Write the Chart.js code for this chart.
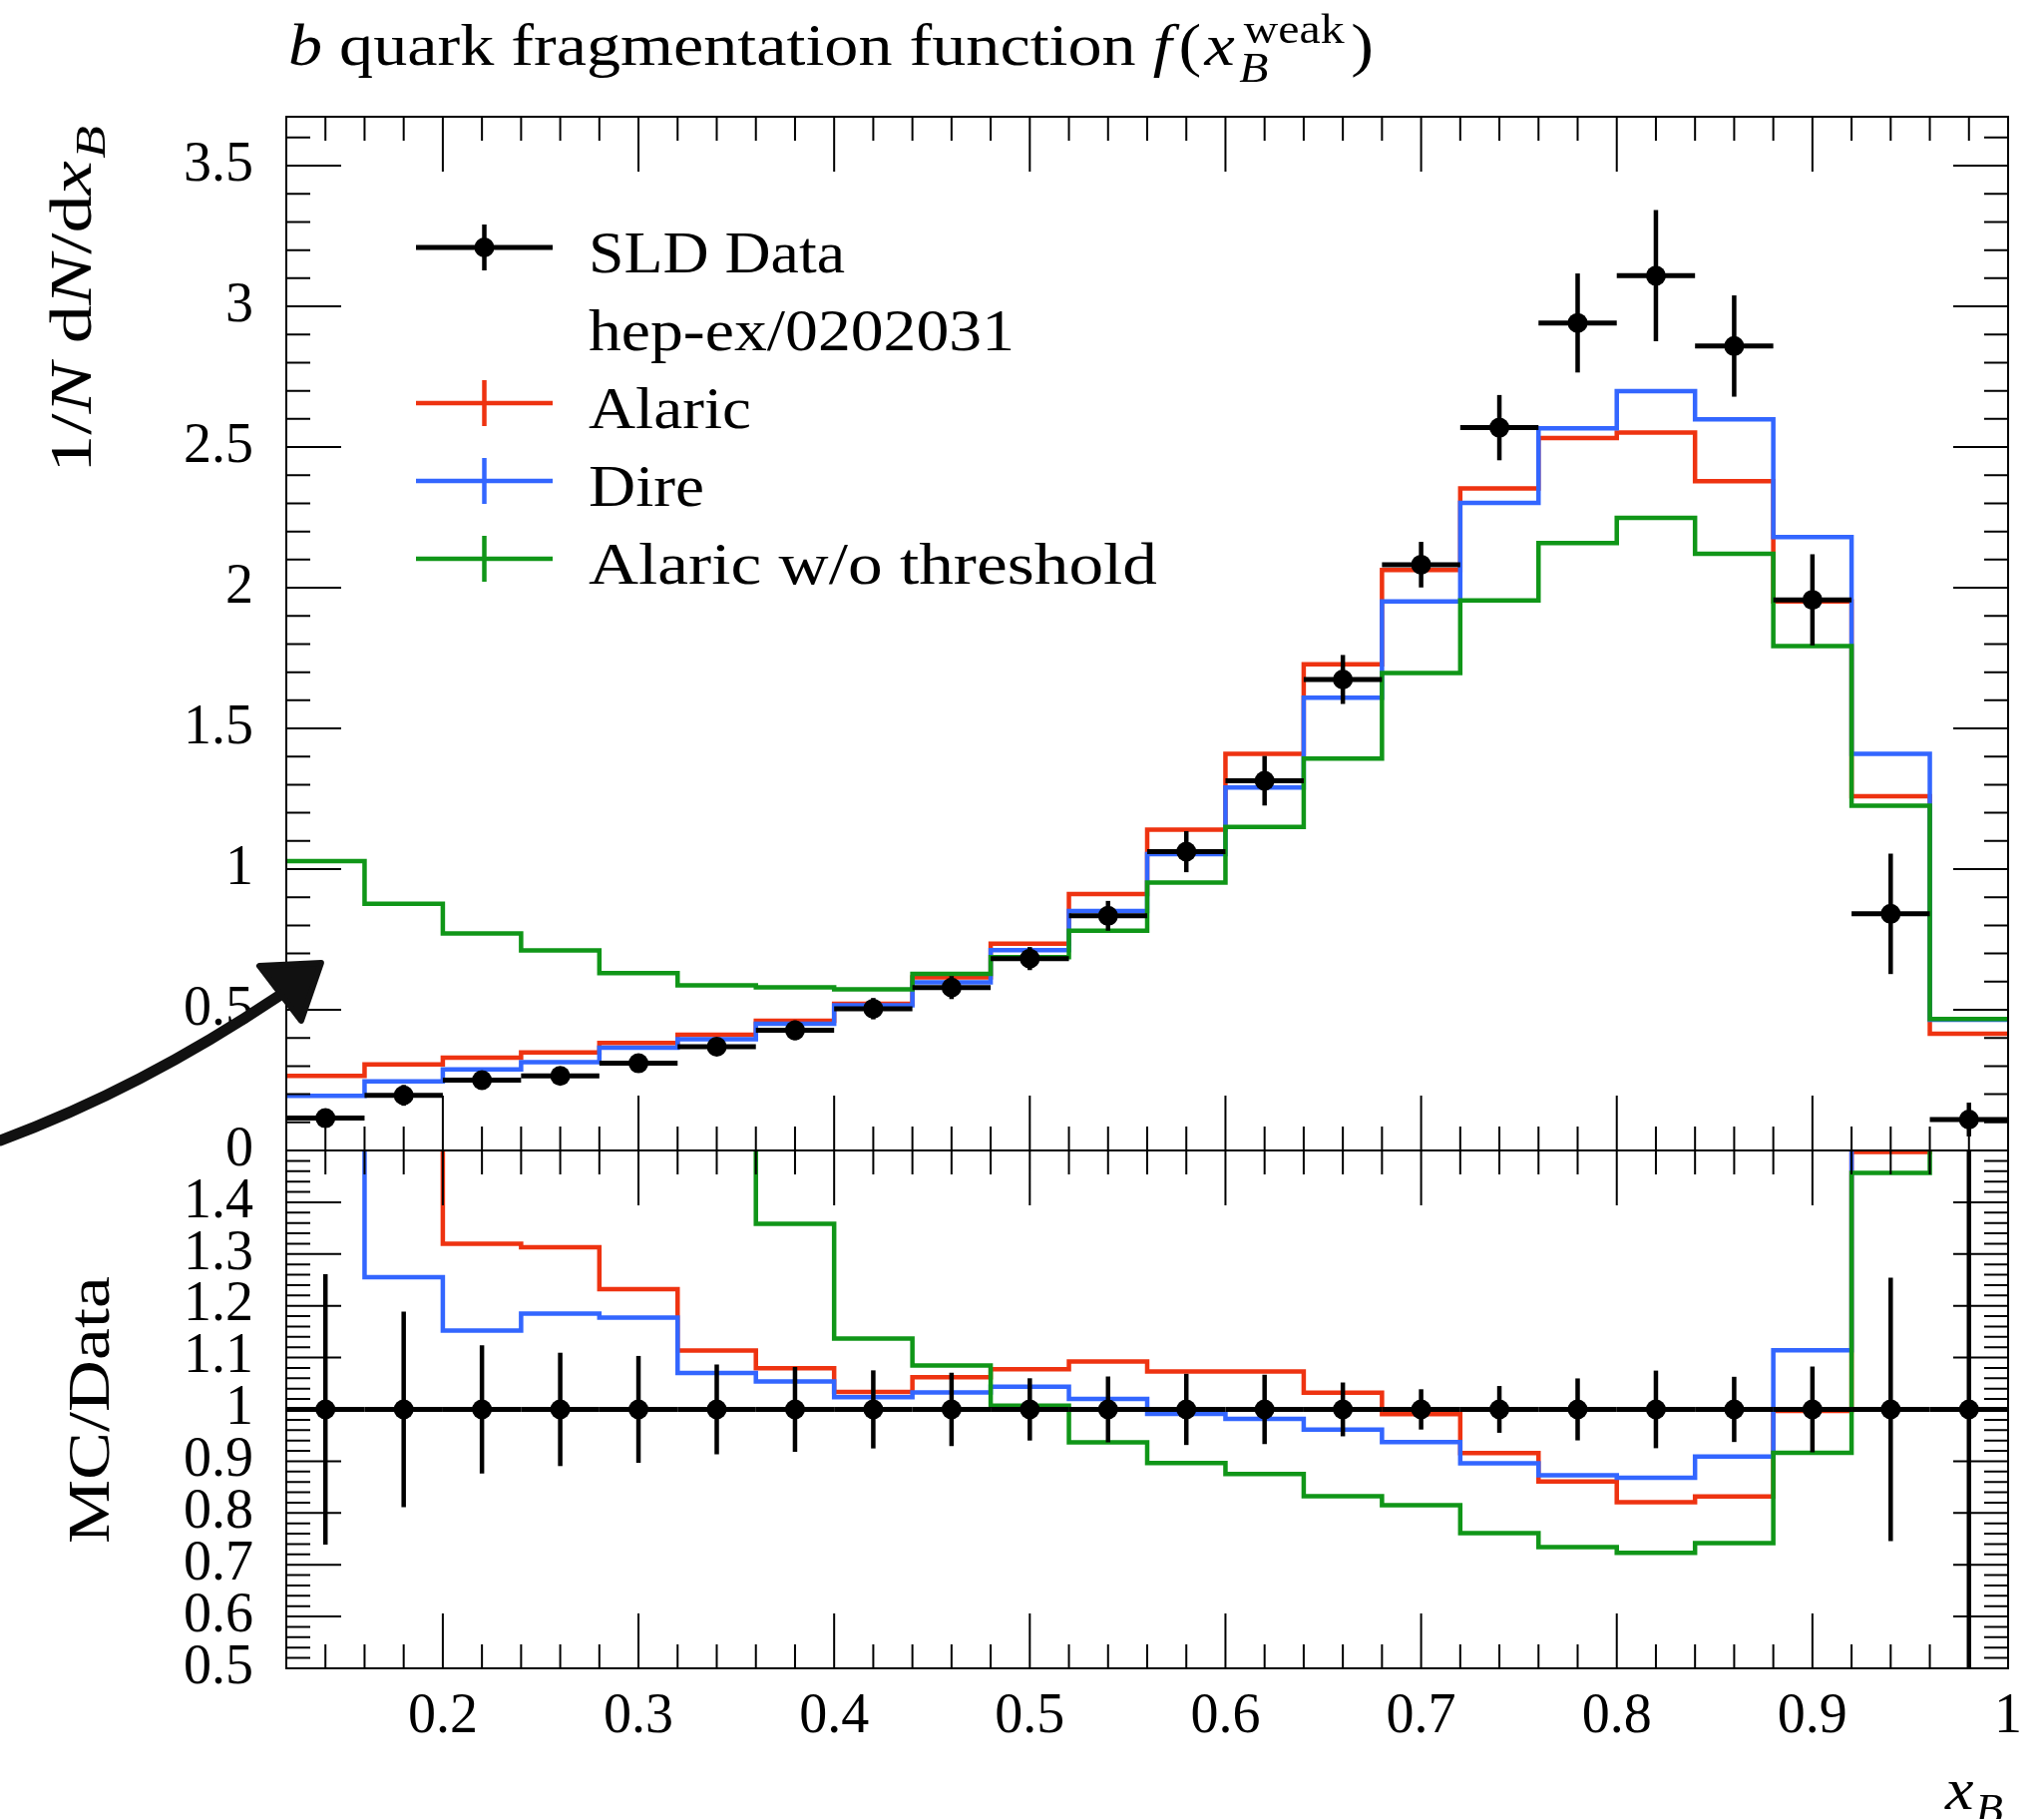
<!DOCTYPE html>
<html><head><meta charset="utf-8">
<script src="https://cdn.jsdelivr.net/npm/chart.js@4.4.1/dist/chart.umd.min.js"></script>
<style>
html,body{margin:0;padding:0;background:#fff;}
#wrap{position:relative;width:2049px;height:1823px;overflow:hidden;background:#fff;}
canvas{position:absolute;left:0;top:0;}
</style></head><body>
<div id="wrap"><canvas id="main" width="2049" height="1823"></canvas><canvas id="ratio" width="2049" height="1823"></canvas></div>
<script>
// ---------------- data ----------------
const binEdges = [0.12,0.16,0.20,0.24,0.28,0.32,0.36,0.40,0.44,0.48,0.52,0.56,0.60,0.64,0.68,0.72,0.76,0.80,0.84,0.88,0.92,0.96,1.00];
const sldData = [0.115,0.196,0.250,0.265,0.310,0.369,0.427,0.504,0.579,0.682,0.834,1.062,1.314,1.674,2.082,2.569,2.941,3.109,2.859,1.957,0.841,0.110];
const sldErr  = [0.030,0.037,0.031,0.029,0.032,0.032,0.035,0.038,0.041,0.041,0.053,0.073,0.088,0.087,0.081,0.116,0.176,0.233,0.180,0.162,0.214,0.060];
const alaric  = [0.265,0.306,0.330,0.348,0.382,0.411,0.461,0.521,0.615,0.735,0.911,1.140,1.410,1.728,2.063,2.353,2.532,2.552,2.379,1.951,1.259,0.415];
const dire    = [0.194,0.246,0.288,0.314,0.365,0.395,0.450,0.516,0.598,0.712,0.851,1.053,1.290,1.609,1.951,2.302,2.567,2.699,2.599,2.180,1.410,0.465];
const alaricNoThr = [1.028,0.877,0.771,0.711,0.630,0.587,0.580,0.573,0.628,0.687,0.781,0.952,1.150,1.393,1.697,1.955,2.159,2.248,2.121,1.793,1.225,0.467];
const xTickValues = [0.2,0.3,0.4,0.5,0.6,0.7,0.8,0.9,1.0];
const yTickValuesMain = [0,0.5,1,1.5,2,2.5,3,3.5];
const yTickValuesRatio = [0.5,0.6,0.7,0.8,0.9,1.0,1.1,1.2,1.3,1.4];
const legendLabels = ['SLD Data','hep-ex/0202031','Alaric','Dire','Alaric w/o threshold'];
const titleText = ['b',' quark fragmentation function ','f','(','x','B','weak',')'];
const yLabelText = ['1/','N',' d','N','/d','x','B'];
const ratioLabelText = 'MC/Data';
const xLabelText = ['x','B'];
// hand-drawn annotation arrow (in data coordinates of the main panel)
const arrowShaft = [{x:-0.0263,y:0.0355},{x:0.0451,y:0.218},{x:0.1164,y:0.550}];
const arrowHead = [{x:0.1062,y:0.656},{x:0.1378,y:0.667},{x:0.1276,y:0.461}];

// ---------------- layout & styles ----------------
const RED='#EE3311', BLUE='#3366FF', GREEN='#109618';
const SERIF='"Liberation Serif","Times New Roman",serif';
Chart.defaults.font.family = SERIF;
const legendRows=[248,326,404,482,560];
const legendTextWidths=[257,427,163,116,570];

const centers = binEdges.slice(0,-1).map((e,i)=>(e+binEdges[i+1])/2);
const stepPoints = vals => vals.map((v,i)=>({x:binEdges[i],y:v})).concat([{x:binEdges[binEdges.length-1],y:vals[vals.length-1]}]);
const ratioOf = vals => vals.map((v,i)=>v/sldData[i]);
const fmt = v => String(Math.round(v*100)/100);

function fontStr(r){ return (r.i?'italic ':'') + (r.s||60) + 'px ' + SERIF; }
function layoutRuns(ctx, runs){
  let cx=0, pending=0; const pos=[];
  runs.forEach(r=>{
    ctx.font=fontStr(r);
    const w=ctx.measureText(r.t).width;
    cx += (r.dx||0);
    pos.push(cx);
    if(r.noAdv){ pending=w; } else { cx += Math.max(w,pending); pending=0; }
  });
  return {pos, width:cx};
}
function drawRuns(ctx, runs, x, y, target, stretch){
  ctx.save();
  const L=layoutRuns(ctx,runs);
  const sx = target ? target/L.width : (stretch||1);
  ctx.translate(x,y); ctx.scale(sx,1);
  ctx.fillStyle='#000'; ctx.textBaseline='alphabetic'; ctx.textAlign='left';
  runs.forEach((r,k)=>{ ctx.font=fontStr(r); ctx.fillText(r.t, L.pos[k], r.dy||0); });
  ctx.restore();
}

function errorBars(getPts){
  return {id:'errbars', afterDatasetsDraw(chart){
    const {ctx, chartArea:a, scales:{x,y}} = chart;
    ctx.save();
    ctx.beginPath(); ctx.rect(a.left,a.top,a.right-a.left,a.bottom-a.top); ctx.clip();
    ctx.strokeStyle='#000'; ctx.lineCap='butt';
    getPts().forEach(p=>{
      const px=x.getPixelForValue(p.x), py=y.getPixelForValue(p.y);
      ctx.lineWidth=5;
      ctx.beginPath(); ctx.moveTo(x.getPixelForValue(p.xl),py); ctx.lineTo(x.getPixelForValue(p.xh),py); ctx.stroke();
      ctx.lineWidth=4.5;
      ctx.beginPath(); ctx.moveTo(px,y.getPixelForValue(p.y-p.e)); ctx.lineTo(px,y.getPixelForValue(p.y+p.e)); ctx.stroke();
    });
    ctx.restore();
  }};
}
function framePlugin(yMinor, yMajor){
  return {id:'frame', afterDraw(chart){
    const {ctx, chartArea:a, scales:{x,y}} = chart;
    ctx.save(); ctx.strokeStyle='#000'; ctx.lineWidth=2;
    ctx.strokeRect(a.left,a.top,a.right-a.left,a.bottom-a.top);
    ctx.beginPath();
    const xmin=x.min, xmax=x.max;
    for(let k=1;;k++){
      const v=xmin+k*0.02; if(v>xmax-1e-6) break;
      const maj=Math.abs(v*10-Math.round(v*10))<1e-6;
      const L=maj?55:24, px=x.getPixelForValue(v);
      ctx.moveTo(px,a.top); ctx.lineTo(px,a.top+L);
      ctx.moveTo(px,a.bottom); ctx.lineTo(px,a.bottom-L);
    }
    const ymin=y.min, ymax=y.max;
    for(let k=1;;k++){
      const v=ymin+k*yMinor; if(v>ymax-1e-6) break;
      const maj=Math.abs(v/yMajor-Math.round(v/yMajor))<1e-6;
      const L=maj?55:24, py=y.getPixelForValue(v);
      ctx.moveTo(a.left,py); ctx.lineTo(a.left+L,py);
      ctx.moveTo(a.right,py); ctx.lineTo(a.right-L,py);
    }
    ctx.stroke(); ctx.restore();
  }};
}

const mainText = {id:'mainText', afterDraw(chart){
  const {ctx, scales:{x,y}} = chart;
  // title
  const T=titleText;
  drawRuns(ctx,[{t:T[0],i:1},{t:T[1]},{t:T[2],i:1},{t:T[3],dx:6},{t:T[4],i:1,dx:3},{t:T[5],i:1,s:42,dy:17,dx:4,noAdv:1},{t:T[6],s:42,dy:-22,dx:4},{t:T[7],dx:6}],289,65,1088);
  // y label
  ctx.save(); ctx.translate(91,474); ctx.rotate(-Math.PI/2);
  const Y=yLabelText;
  drawRuns(ctx,[{t:Y[0]},{t:Y[1],i:1},{t:Y[2]},{t:Y[3],i:1},{t:Y[4]},{t:Y[5],i:1},{t:Y[6],i:1,s:42,dy:14,dx:2}],0,0,348);
  ctx.restore();
  // legend
  const kinds=['data','none','mc','mc','mc'], cols=['#000',null,RED,BLUE,GREEN];
  legendLabels.forEach((lab,k)=>{
    const ly=legendRows[k];
    if(kinds[k]!=='none'){
      ctx.save(); ctx.strokeStyle=cols[k]; ctx.lineCap='butt';
      ctx.lineWidth=kinds[k]==='data'?5:4.5;
      ctx.beginPath(); ctx.moveTo(417,ly); ctx.lineTo(554,ly); ctx.stroke();
      ctx.lineWidth=4.5;
      ctx.beginPath(); ctx.moveTo(485.5,ly-23); ctx.lineTo(485.5,ly+23); ctx.stroke();
      if(kinds[k]==='data'){ ctx.fillStyle='#000'; ctx.beginPath(); ctx.arc(485.5,ly,10,0,Math.PI*2); ctx.fill(); }
      ctx.restore();
    }
    drawRuns(ctx,[{t:lab}],590,ly+25,legendTextWidths[k]);
  });
  // annotation arrow
  ctx.save(); ctx.strokeStyle='#111'; ctx.fillStyle='#111'; ctx.lineCap='round';
  const P=arrowShaft.map(p=>[x.getPixelForValue(p.x),y.getPixelForValue(p.y)]);
  ctx.lineWidth=11;
  ctx.beginPath(); ctx.moveTo(P[0][0],P[0][1]); ctx.quadraticCurveTo(P[1][0],P[1][1],P[2][0],P[2][1]); ctx.stroke();
  const H=arrowHead.map(p=>[x.getPixelForValue(p.x),y.getPixelForValue(p.y)]);
  ctx.lineJoin='round'; ctx.lineWidth=6;
  ctx.beginPath(); ctx.moveTo(H[0][0],H[0][1]); ctx.lineTo(H[1][0],H[1][1]); ctx.lineTo(H[2][0],H[2][1]); ctx.closePath(); ctx.fill(); ctx.stroke();
  ctx.restore();
}};
const ratioText = {id:'ratioText', afterDraw(chart){
  const ctx=chart.ctx;
  ctx.save(); ctx.translate(109,1547); ctx.rotate(-Math.PI/2);
  drawRuns(ctx,[{t:ratioLabelText}],0,0,268);
  ctx.restore();
  drawRuns(ctx,[{t:xLabelText[0],i:1},{t:xLabelText[1],i:1,s:42,dy:14,dx:2}],1950,1813,58);
}};

const tickFont={family:SERIF,size:56};
const lineDs=(label,vals,color,order)=>({type:'line',label,data:stepPoints(vals),borderColor:color,borderWidth:4.5,pointRadius:0,stepped:'before',fill:false,order,clip:0,borderJoinStyle:'miter',borderCapStyle:'butt'});
const dataDs=(vals)=>({type:'line',label:'SLD Data',data:centers.map((c,i)=>({x:c,y:vals[i]})),showLine:false,pointRadius:10,pointBackgroundColor:'#000',pointBorderColor:'#000',pointBorderWidth:0,order:0,clip:0});

const yAxis=(min,max,ticks)=>({type:'linear',min,max,
  grid:{display:false,drawTicks:false,tickLength:0},border:{display:false},
  ticks:{font:tickFont,color:'#000',padding:33,autoSkip:false,callback:v=>fmt(v)},
  afterBuildTicks:s=>{s.ticks=ticks.map(v=>({value:v}));},
  afterFit:s=>{s.width=287;s.paddingTop=0;s.paddingBottom=0;}});

new Chart(document.getElementById('main'),{
  type:'line',
  data:{datasets:[dataDs(sldData),lineDs('Alaric w/o threshold',alaricNoThr,GREEN,1),lineDs('Dire',dire,BLUE,2),lineDs('Alaric',alaric,RED,3)]},
  options:{responsive:false,animation:false,events:[],
    layout:{autoPadding:false,padding:{left:0,right:36,top:117,bottom:670}},
    plugins:{legend:{display:false},tooltip:{enabled:false},title:{display:false}},
    scales:{x:{type:'linear',min:0.12,max:1.0,display:false},y:yAxis(0,3.674,yTickValuesMain)}},
  plugins:[errorBars(()=>centers.map((c,i)=>({x:c,xl:binEdges[i],xh:binEdges[i+1],y:sldData[i],e:sldErr[i]}))),framePlugin(0.1,0.5),mainText]
});

new Chart(document.getElementById('ratio'),{
  type:'line',
  data:{datasets:[dataDs(ratioOf(sldData)),lineDs('Alaric w/o threshold',ratioOf(alaricNoThr),GREEN,1),lineDs('Dire',ratioOf(dire),BLUE,2),lineDs('Alaric',ratioOf(alaric),RED,3)]},
  options:{responsive:false,animation:false,events:[],
    layout:{autoPadding:false,padding:{left:0,right:36,top:1153,bottom:51}},
    plugins:{legend:{display:false},tooltip:{enabled:false},title:{display:false}},
    scales:{
      x:{type:'linear',min:0.12,max:1.0,grid:{display:false,drawTicks:false,tickLength:0},border:{display:false},
        ticks:{font:tickFont,color:'#000',padding:16,autoSkip:false,maxRotation:0,minRotation:0,callback:v=>fmt(v)},
        afterBuildTicks:s=>{s.ticks=xTickValues.map(v=>({value:v}));},
        afterFit:s=>{s.height=100;s.paddingLeft=0;s.paddingRight=0;}},
      y:yAxis(0.5,1.5,yTickValuesRatio)}},
  plugins:[errorBars(()=>centers.map((c,i)=>({x:c,xl:binEdges[i],xh:binEdges[i+1],y:sldData[i]/sldData[i],e:sldErr[i]/sldData[i]}))),framePlugin(0.02,0.1),ratioText]
});
</script>
</body></html>
